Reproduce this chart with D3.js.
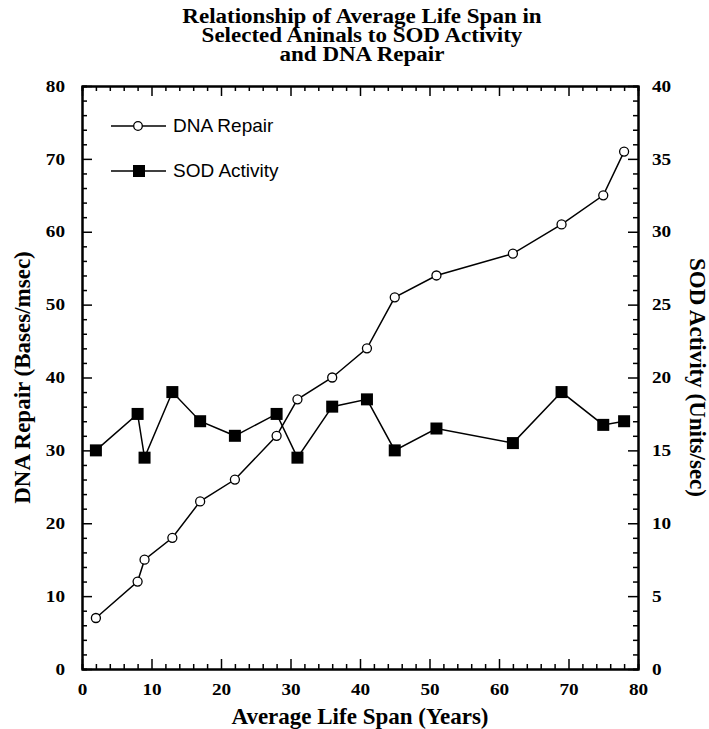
<!DOCTYPE html>
<html>
<head>
<meta charset="utf-8">
<script src="https://cdn.jsdelivr.net/npm/d3@7"></script>
<style>
  body { margin: 0; background: #fff; }
  svg { display: block; }
  .serif { font-family: "Liberation Serif", "Times New Roman", serif; font-weight: bold; }
  .sans { font-family: "Liberation Sans", Arial, sans-serif; }
</style>
</head>
<body>
<div id="chart"></div>
<script>
// Average life span (years) of each animal
const lifeSpan = [2, 8, 9, 13, 17, 22, 28, 31, 36, 41, 45, 51, 62, 69, 75, 78];
// DNA repair (Bases/msec), left axis
const dnaRepair = [7, 12, 15, 18, 23, 26, 32, 37, 40, 44, 51, 54, 57, 61, 65, 71];
// SOD activity (Units/sec), right axis
const sodActivity = [15, 17.5, 14.5, 19, 17, 16, 17.5, 14.5, 18, 18.5, 15, 16.5, 15.5, 19, 16.75, 17];

const titleLines = ["Relationship of Average Life Span in", "Selected Aninals to SOD Activity", "and DNA Repair"];
const xTicks = [0, 10, 20, 30, 40, 50, 60, 70, 80];
const leftTicks = [0, 10, 20, 30, 40, 50, 60, 70, 80];
const rightTicks = [0, 5, 10, 15, 20, 25, 30, 35, 40];

const W = 709, H = 729;
const margin = { top: 86, right: 71, bottom: 60, left: 82 };
const width = W - margin.left - margin.right;
const height = H - margin.top - margin.bottom;

const svg = d3.select("#chart").append("svg")
    .attr("width", W)
    .attr("height", H);

const g = svg.append("g")
    .attr("transform", `translate(${margin.left},${margin.top})`);

const x = d3.scaleLinear().domain([0, 80]).range([0, width]);
const yL = d3.scaleLinear().domain([0, 80]).range([height, 0]);
const yR = d3.scaleLinear().domain([0, 40]).range([height, 0]);

// minor tick values
const xMinor = d3.range(0, 81, 2).filter(v => v % 10 !== 0);
const yLMinor = d3.range(0, 81, 2).filter(v => v % 10 !== 0);
const yRMinor = d3.range(0, 41, 1).filter(v => v % 5 !== 0);

// the reference text is a bit wider than Times at the same height
function widen(sel, k) {
    sel.each(function () {
        const len = this.getComputedTextLength();
        if (len > 0) {
            d3.select(this)
                .attr("textLength", len * k)
                .attr("lengthAdjust", "spacingAndGlyphs");
        }
    });
}

function styleAxis(sel) {
    sel.select(".domain").attr("stroke", "#000").attr("stroke-width", 2);
    sel.selectAll(".tick line").attr("stroke", "#000").attr("stroke-width", 1.5);
    sel.selectAll(".tick text")
        .attr("class", "serif")
        .style("font-size", "16px")
        .attr("fill", "#000")
        .call(widen, 1.2);
}

// bottom axis (ticks pointing inward)
g.append("g").attr("transform", `translate(0,${height})`)
    .call(d3.axisBottom(x).tickValues(xTicks).tickSizeInner(-10).tickSizeOuter(0).tickPadding(15))
    .call(styleAxis);
g.append("g").attr("transform", `translate(0,${height})`)
    .call(d3.axisBottom(x).tickValues(xMinor).tickSize(-5).tickFormat(""))
    .call(styleAxis);

// top axis
g.append("g")
    .call(d3.axisTop(x).tickValues(xTicks).tickSizeInner(-10).tickSizeOuter(0).tickFormat(""))
    .call(styleAxis);
g.append("g")
    .call(d3.axisTop(x).tickValues(xMinor).tickSize(-5).tickFormat(""))
    .call(styleAxis);

// left axis
g.append("g")
    .call(d3.axisLeft(yL).tickValues(leftTicks).tickSizeInner(-10).tickSizeOuter(0).tickPadding(17))
    .call(styleAxis);
g.append("g")
    .call(d3.axisLeft(yL).tickValues(yLMinor).tickSize(-5).tickFormat(""))
    .call(styleAxis);

// right axis
g.append("g").attr("transform", `translate(${width},0)`)
    .call(d3.axisRight(yR).tickValues(rightTicks).tickSizeInner(-10).tickSizeOuter(0).tickPadding(14))
    .call(styleAxis);
g.append("g").attr("transform", `translate(${width},0)`)
    .call(d3.axisRight(yR).tickValues(yRMinor).tickSize(-5).tickFormat(""))
    .call(styleAxis);

// build point arrays
const dnaPts = lifeSpan.map((d, i) => ({ x: d, y: dnaRepair[i] }));
const sodPts = lifeSpan.map((d, i) => ({ x: d, y: sodActivity[i] }));

// DNA repair line + open circles
g.append("path")
    .datum(dnaPts)
    .attr("fill", "none")
    .attr("stroke", "#000")
    .attr("stroke-width", 1.5)
    .attr("d", d3.line().x(d => x(d.x)).y(d => yL(d.y)));

g.selectAll(".dna")
    .data(dnaPts)
    .enter().append("circle")
    .attr("class", "dna")
    .attr("cx", d => x(d.x))
    .attr("cy", d => yL(d.y))
    .attr("r", 4.5)
    .attr("fill", "#fff")
    .attr("stroke", "#000")
    .attr("stroke-width", 1.3);

// SOD activity line + filled squares
g.append("path")
    .datum(sodPts)
    .attr("fill", "none")
    .attr("stroke", "#000")
    .attr("stroke-width", 1.5)
    .attr("d", d3.line().x(d => x(d.x)).y(d => yR(d.y)));

const sq = 12;
g.selectAll(".sod")
    .data(sodPts)
    .enter().append("rect")
    .attr("class", "sod")
    .attr("x", d => x(d.x) - sq / 2)
    .attr("y", d => yR(d.y) - sq / 2)
    .attr("width", sq)
    .attr("height", sq)
    .attr("fill", "#000");

// legend
const legend = g.append("g").attr("transform", "translate(29,40)");
legend.append("line").attr("x1", 0).attr("x2", 55).attr("y1", 0).attr("y2", 0)
    .attr("stroke", "#000").attr("stroke-width", 1.5);
legend.append("circle").attr("cx", 27).attr("cy", 0).attr("r", 4.3)
    .attr("fill", "#fff").attr("stroke", "#000").attr("stroke-width", 1.3);
legend.append("text").attr("class", "sans").attr("x", 62).attr("y", 6)
    .style("font-size", "19px").text("DNA Repair");

legend.append("line").attr("x1", 0).attr("x2", 55).attr("y1", 45).attr("y2", 45)
    .attr("stroke", "#000").attr("stroke-width", 1.5);
legend.append("rect").attr("x", 28 - sq / 2).attr("y", 45 - sq / 2).attr("width", sq).attr("height", sq)
    .attr("fill", "#000");
legend.append("text").attr("class", "sans").attr("x", 62).attr("y", 51)
    .style("font-size", "19px").text("SOD Activity");

// title, one text per line
svg.selectAll(".title")
    .data(titleLines)
    .enter().append("text")
    .attr("class", "serif title")
    .attr("text-anchor", "middle")
    .style("font-size", "20px")
    .attr("x", 362)
    .attr("y", (d, i) => 23 + i * 19)
    .text(d => d)
    .call(widen, 1.15);

// axis titles
svg.append("text")
    .attr("class", "serif")
    .attr("text-anchor", "middle")
    .style("font-size", "23px")
    .attr("x", margin.left + width / 2)
    .attr("y", 724)
    .text("Average Life Span (Years)");

svg.append("text")
    .attr("class", "serif")
    .attr("text-anchor", "middle")
    .style("font-size", "23px")
    .attr("transform", `translate(30,${margin.top + height / 2}) rotate(-90)`)
    .text("DNA Repair (Bases/msec)");

svg.append("text")
    .attr("class", "serif")
    .attr("text-anchor", "middle")
    .style("font-size", "23px")
    .attr("transform", `translate(690,${margin.top + height / 2}) rotate(90)`)
    .text("SOD Activity (Units/sec)");
</script>
</body>
</html>
